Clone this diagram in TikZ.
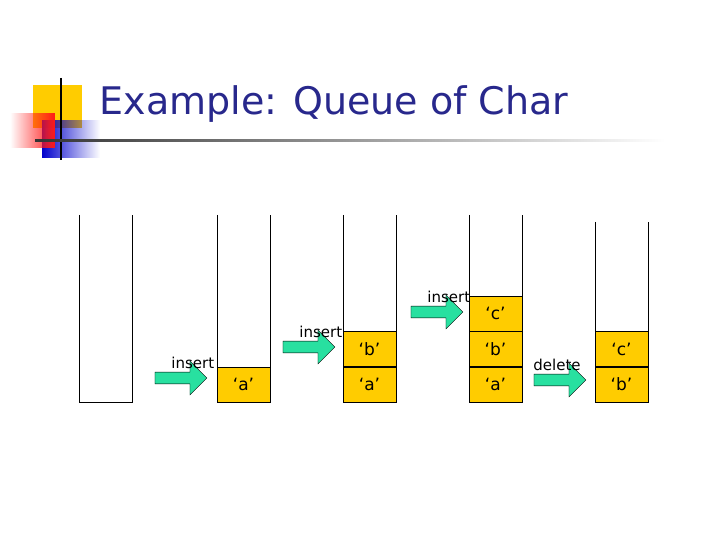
\documentclass[tikz,border=0pt]{standalone}
\usepackage{fontspec}
\setmainfont{DejaVu Sans}
\usetikzlibrary{shapes.arrows,positioning,fadings}
\definecolor{navy}{RGB}{40,40,140}
\definecolor{gold}{RGB}{255,204,0}
\definecolor{aqua}{RGB}{40,224,160}
\tikzset{
  cell/.style={draw, fill=gold, minimum width=53pt, minimum height=35pt, inner sep=0pt, font=\fontsize{17}{17}\selectfont},
  op/.style={single arrow, draw, fill=aqua, minimum width=34pt, single arrow head extend=6pt, minimum height=52pt, inner sep=3pt},
  oplabel/.style={font=\fontsize{15}{15}\selectfont},
}
\begin{document}
\begin{tikzpicture}[x=1pt,y=-1pt]
\useasboundingbox (0,0) rectangle (720,540);
% logo
\fill[gold] (33,85) rectangle (82,128);
\fill[blue!80!black, path fading=east] (42,120) rectangle (100,158);
\fill[red!90, path fading=west] (10,113) rectangle (55,148);
\draw[line width=1.5pt] (61,78) -- (61,160);
\shade[left color=black!80, right color=white] (35,140) rectangle (665,142);
\node[anchor=west, text=navy, font=\fontsize{38}{38}\selectfont] (title) at (96,104) {Example: Queue of Char};
% queues
\foreach \x/\t in {79/215, 217/215, 343/215, 469/215, 595/222}
  \draw (\x,\t) -- (\x,402) -- (\x+53,402) -- (\x+53,\t);
\node[cell] (a1) at (243.5,384.5) {‘a’};
\node[cell] (a2) at (369.5,384.5) {‘a’};
\node[cell, above=0pt of a2] (b2) {‘b’};
\node[cell] (a3) at (495.5,384.5) {‘a’};
\node[cell, above=0pt of a3] (b3) {‘b’};
\node[cell, above=0pt of b3] (c3) {‘c’};
\node[cell] (b4) at (621.5,384.5) {‘b’};
\node[cell, above=0pt of b4] (c4) {‘c’};
% operations
\node[op] (ins1) at (178,378) {};
\node[oplabel, above=0pt of ins1.north west, anchor=south west, xshift=-4pt] {insert};
\node[op] (ins2) at (306,347) {};
\node[oplabel, above=0pt of ins2.north west, anchor=south west, xshift=-4pt] {insert};
\node[op] (ins3) at (434,312) {};
\node[oplabel, above=0pt of ins3.north west, anchor=south west, xshift=-4pt] {insert};
\node[op] (del) at (557,380) {};
\node[oplabel, above=0pt of del] {delete};
\end{tikzpicture}
\end{document}
